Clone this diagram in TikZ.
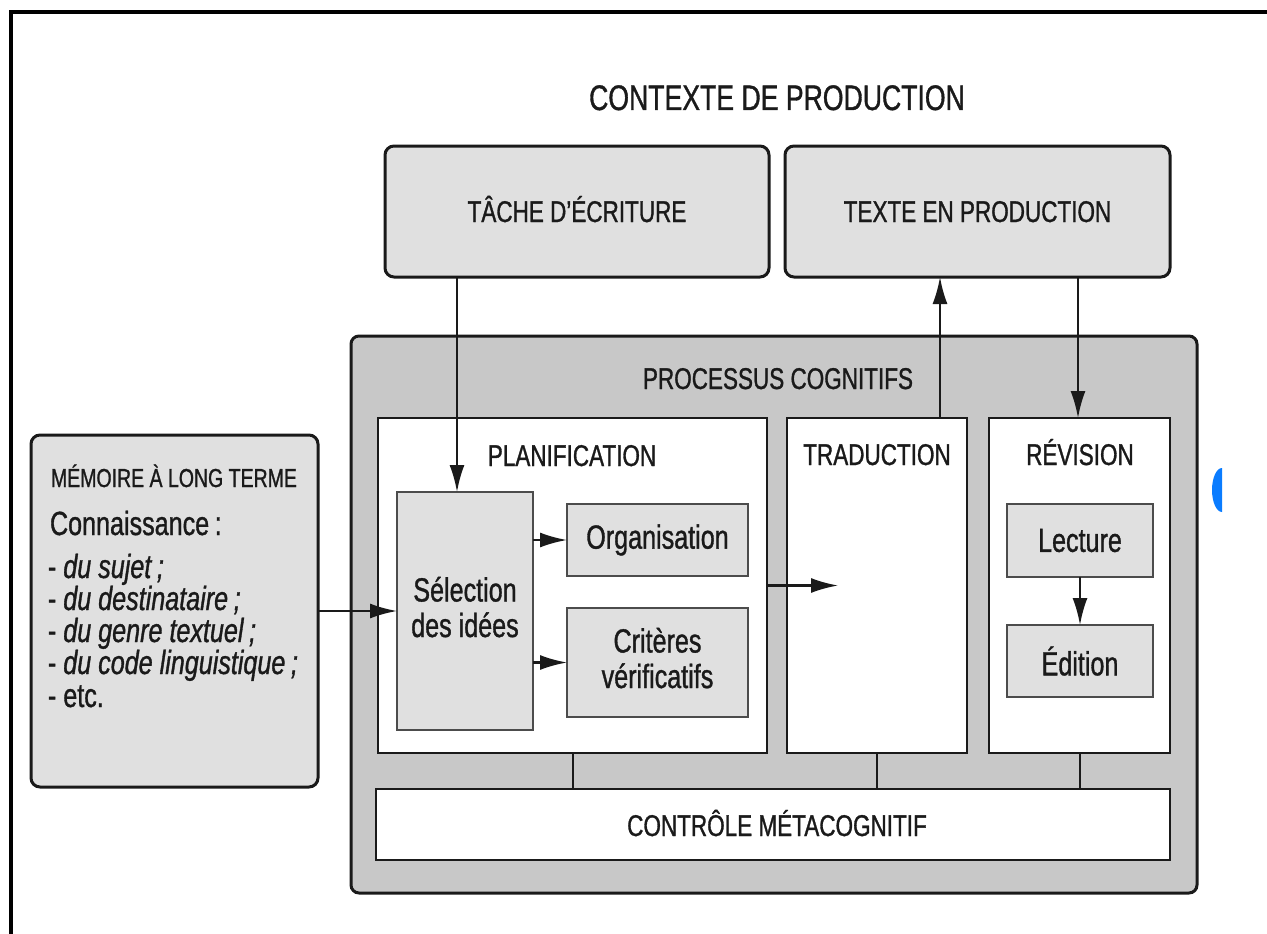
\documentclass[tikz,border=0pt]{standalone}
\usepackage{fontspec}
\setmainfont[FakeStretch=0.75,FakeBold=1]{Liberation Sans}
\usetikzlibrary{arrows.meta}

\definecolor{boxgray}{HTML}{E0E0E0}
\definecolor{procgray}{HTML}{C8C8C8}
\definecolor{linec}{HTML}{1A1A1A}
\definecolor{dotblue}{HTML}{0A7CFF}

\newcommand\ctxfont{\fontsize{35.5}{40}\selectfont}
\newcommand\hdfont{\fontsize{30}{34}\selectfont}
\newcommand\memfont{\fontsize{26}{30}\selectfont}
\newcommand\txfont{\fontsize{33.5}{35.5}\selectfont}

\begin{document}
\begin{tikzpicture}[x=1pt,y=-1pt,
  every node/.style={inner sep=0pt, outer sep=0pt, text=linec},
  ctxbox/.style={draw=linec, line width=3pt, fill=boxgray, rounded corners=9pt},
  procbox/.style={draw=linec, line width=3pt, fill=procgray, rounded corners=8pt},
  whitebox/.style={draw=linec, line width=2.5pt, fill=white},
  subbox/.style={draw=black!70, line width=2pt, fill=boxgray, align=center},
  arr/.style={draw=linec, line width=2.2pt, -{Latex[length=27pt,width=15pt]}},
  link/.style={draw=linec, line width=2pt}]

\useasboundingbox (0,0) rectangle (1267,934);

% page frame
\draw[line width=4pt, black] (10.5,934) -- (10.5,12.5) -- (1267,12.5);

% production context
\node[anchor=base] (ctx) at (777,110) {\ctxfont CONTEXTE DE PRODUCTION};
\node[ctxbox, minimum width=384pt, minimum height=131pt] (tache) at (577,211.5) {};
\node[anchor=base] (tachetxt) at (577,222) {\hdfont TÂCHE D’ÉCRITURE};
\node[ctxbox, minimum width=385pt, minimum height=131pt] (texte) at (977.5,211.5) {};
\node[anchor=base] (textetxt) at (977.5,222) {\hdfont TEXTE EN PRODUCTION};

% cognitive processes
\node[procbox, minimum width=846pt, minimum height=557pt] (proc) at (774,614.5) {};
\node[anchor=base] (proctxt) at (778,389) {\hdfont PROCESSUS COGNITIFS};

\node[whitebox, minimum width=389pt, minimum height=335pt] (planif) at (572.5,585.5) {};
\node[anchor=base] (planiftxt) at (572,466) {\hdfont PLANIFICATION};
\node[whitebox, minimum width=180pt, minimum height=335pt] (trad) at (877,585.5) {};
\node[anchor=base] (tradtxt) at (877,465) {\hdfont TRADUCTION};
\node[whitebox, minimum width=181pt, minimum height=335pt] (rev) at (1079.5,585.5) {};
\node[anchor=base] (revtxt) at (1080,465) {\hdfont RÉVISION};

\node[whitebox, minimum width=794pt, minimum height=71pt] (ctrl) at (773,824.5) {};
\node[anchor=base] (ctrltxt) at (777,836) {\hdfont CONTRÔLE MÉTACOGNITIF};

% planning sub-steps (base anchor = baseline of the last line)
\node[subbox, minimum width=136pt, minimum height=238pt] (sel) at (465,611) {};
\node[anchor=base, align=center, font=\txfont] (seltxt) at (465,637) {Sélection\\des idées};
\node[subbox, minimum width=181pt, minimum height=72pt, font=\txfont] (org) at (657.5,540) {Organisation};
\node[subbox, minimum width=181pt, minimum height=109pt] (crit) at (657.5,662.5) {};
\node[anchor=base, align=center, font=\txfont] (crittxt) at (657.5,688) {Critères\\vérificatifs};

% revision sub-steps
\node[subbox, minimum width=146pt, minimum height=73pt, font=\txfont] (lect) at (1080,540.5) {Lecture};
\node[subbox, minimum width=146pt, minimum height=72pt, font=\txfont] (edit) at (1080,661) {Édition};

% long-term memory
\node[ctxbox, minimum width=287pt, minimum height=352pt] (mem) at (174.5,611) {};
\node[anchor=base west] (memtitle) at (51,487) {\memfont MÉMOIRE À LONG TERME};
\node[anchor=base west] (memk) at (50,535) {\txfont Connaissance\,:};
\node[anchor=base west] (mem1) at (48,578) {\txfont - \textit{du sujet\,;}};
\node[anchor=base west] (mem2) at (48,610) {\txfont - \textit{du destinataire\,;}};
\node[anchor=base west] (mem3) at (48,642) {\txfont - \textit{du genre textuel\,;}};
\node[anchor=base west] (mem4) at (48,674) {\txfont - \textit{du code linguistique\,;}};
\node[anchor=base west] (mem5) at (48,707) {\txfont - etc.};

% connectors
\draw[arr] ([xshift=-120pt]tache.south) -- ([xshift=-120pt]tache.south |- sel.north);
\draw[arr] ([xshift=63pt]trad.north) -- ([xshift=63pt]trad.north |- texte.south);
\draw[arr] ([xshift=100.5pt]texte.south) -- ([xshift=100.5pt]texte.south |- rev.north);
\draw[arr] (mem.east) -- (mem.east -| sel.west);
\draw[arr] (sel.east |- org.west) -- (org.west);
\draw[arr] (sel.east |- crit.west) -- (crit.west);
\draw[arr] (planif.east) -- ([xshift=51pt]trad.west);
\draw[arr] (lect.south) -- (edit.north);
\draw[link] (planif.south) -- (planif.south |- ctrl.north);
\draw[link] (trad.south) -- (trad.south |- ctrl.north);
\draw[link] (rev.south) -- (rev.south |- ctrl.north);

% blue marker at the right edge
\fill[dotblue] (1222,512) arc[start angle=90, end angle=270, x radius=10, y radius=22] -- cycle;

\end{tikzpicture}
\end{document}
